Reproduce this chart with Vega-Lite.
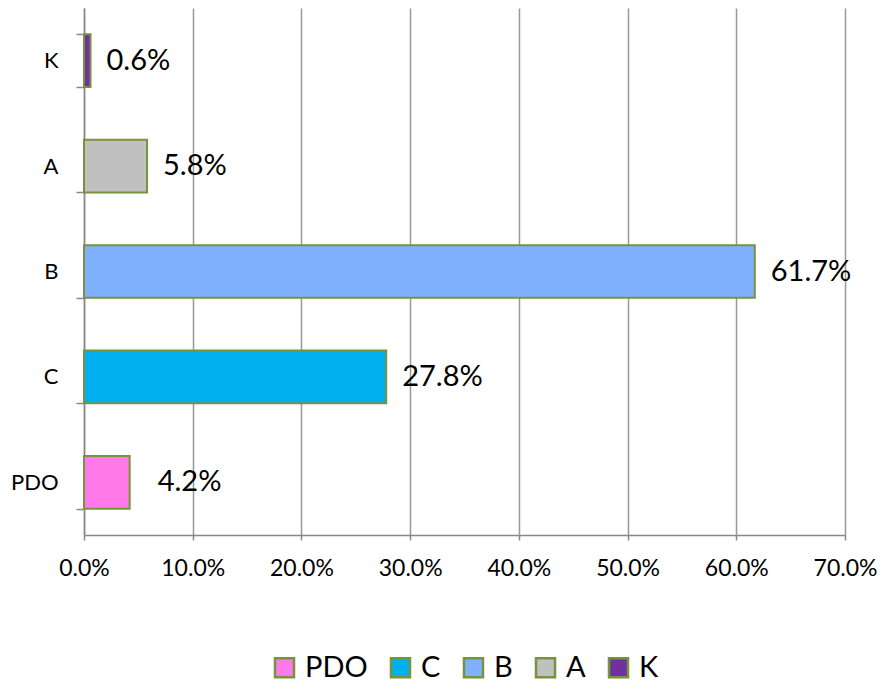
{
  "$schema": "https://vega.github.io/schema/vega-lite/v6.json",
  "width": 761,
  "height": 527,
  "autosize": {"type": "none"},
  "padding": {"left": 84, "top": 8, "right": 38, "bottom": 153},
  "background": "white",
  "config": {
    "font": "Lato",
    "view": {"stroke": null},
    "legend": {"layout": {"bottom": {"anchor": "middle"}}}
  },
  "data": {
    "values": [
      {"cat": "K", "value": 0.006},
      {"cat": "A", "value": 0.058},
      {"cat": "B", "value": 0.617},
      {"cat": "C", "value": 0.278},
      {"cat": "PDO", "value": 0.042}
    ]
  },
  "encoding": {
    "y": {
      "field": "cat",
      "type": "nominal",
      "sort": ["K", "A", "B", "C", "PDO"],
      "scale": {"paddingInner": 0.5, "paddingOuter": 0.25},
      "axis": {
        "title": null,
        "domainColor": "#888888",
        "domainWidth": 1.5,
        "tickColor": "#888888",
        "tickSize": 8,
        "tickWidth": 1.5,
        "tickBand": "extent",
        "labelAlign": "right",
        "labelPadding": 18,
        "labelFontSize": 22,
        "labelColor": "#000000",
        "grid": false
      }
    },
    "x": {
      "field": "value",
      "type": "quantitative",
      "scale": {"domain": [0, 0.7], "nice": false},
      "axis": {
        "title": null,
        "format": ".1%",
        "values": [0, 0.1, 0.2, 0.3, 0.4, 0.5, 0.6, 0.7],
        "grid": true,
        "gridColor": "#999999",
        "gridWidth": 1.5,
        "domainColor": "#888888",
        "domainWidth": 1.5,
        "tickColor": "#888888",
        "tickSize": 5,
        "tickWidth": 1.5,
        "labelPadding": 17,
        "labelFontSize": 23,
        "labelColor": "#000000",
        "labelFlush": false
      }
    }
  },
  "layer": [
    {
      "mark": {"type": "bar", "stroke": "#77933C", "strokeWidth": 2},
      "encoding": {
        "color": {
          "field": "cat",
          "type": "nominal",
          "sort": ["PDO", "C", "B", "A", "K"],
          "scale": {
            "domain": ["PDO", "C", "B", "A", "K"],
            "range": ["#FF79EA", "#00B0F0", "#7FB1FF", "#C0C0C0", "#7030A0"]
          },
          "legend": {
            "title": null,
            "orient": "bottom",
            "direction": "horizontal",
            "offset": 73,
            "symbolType": "square",
            "symbolSize": 361,
            "symbolStrokeColor": "#77933C",
            "symbolStrokeWidth": 2.5,
            "symbolOpacity": 1,
            "labelFontSize": 29,
            "labelColor": "#000000",
            "columnPadding": 18,
            "labelOffset": 6
          }
        }
      }
    },
    {
      "transform": [{"filter": "datum.cat !== 'PDO'"}],
      "mark": {"type": "text", "align": "left", "dx": 16, "fontSize": 29, "baseline": "middle", "color": "#000000"},
      "encoding": {
        "text": {"field": "value", "type": "quantitative", "format": ".1%"}
      }
    },
    {
      "transform": [{"filter": "datum.cat === 'PDO'"}],
      "mark": {"type": "text", "align": "left", "dx": 28, "fontSize": 29, "baseline": "middle", "color": "#000000"},
      "encoding": {
        "text": {"field": "value", "type": "quantitative", "format": ".1%"}
      }
    }
  ]
}
